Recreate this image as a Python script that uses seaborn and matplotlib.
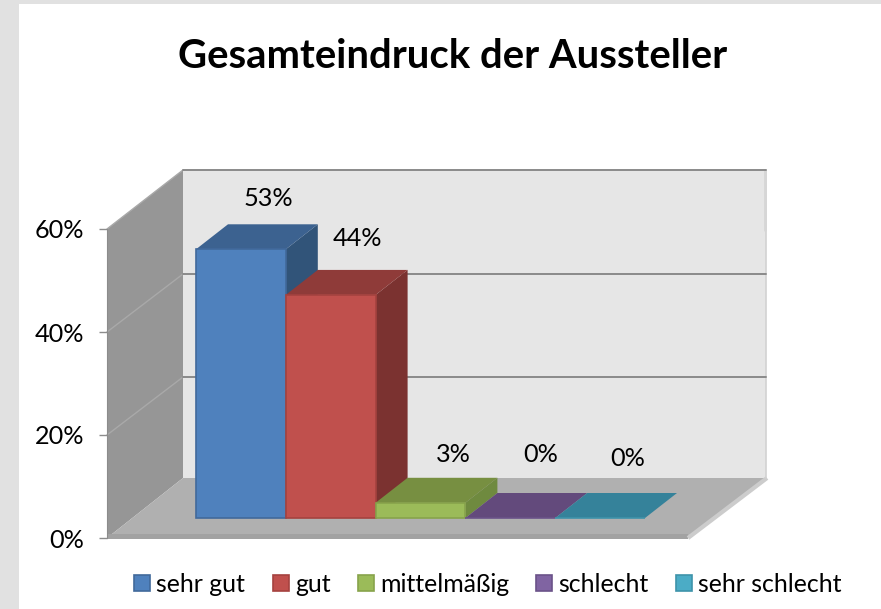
import matplotlib
matplotlib.use("Agg")
import matplotlib.pyplot as plt
import pandas as pd
import seaborn as sns
from matplotlib.patches import Polygon, Rectangle

categories = ["sehr gut", "gut", "mittelmäßig", "schlecht", "sehr schlecht"]
values = [53, 44, 3, 0, 0]
y_ticks = [0, 20, 40, 60]

front_colors = ["#4f81bd", "#c0504d", "#9bbb59", "#8064a2", "#4bacc6"]
top_colors = ["#3c6290", "#8f3b39", "#778f41", "#634a7c", "#35829a"]
side_colors = ["#315479", "#7b3230", "#6f8a3f", "#5a4372", "#2f7489"]
edge_colors = ["#41699b", "#a5423f", "#87a34b", "#6b5389", "#3e93aa"]

# label offsets from the bar's front top centre, in px (right, up)
label_offsets = [(27, 51), (27, 56), (33, 48), (30, 64), (28, 60)]

W, H = 881, 609
FONT = "Lato"

# layout in px
WALL_LEFT, WALL_RIGHT = 107, 688
AXIS_ZERO, AXIS_TOP = 538, 229
WALL_DX, WALL_DY = 76, 60
GRID_DY = 58
BAR_LEFT, BAR_RIGHT, BAR_BASE = 196, 645, 518
BAR_DX, BAR_DY = 32, 25
BAR_PX_PER_PCT = 5.07

sns.set_style("white")
plt.rcParams["font.family"] = [FONT, "DejaVu Sans"]

fig = plt.figure(figsize=(W / 100, H / 100), dpi=100, facecolor="white")


def box(left, top, right, bottom):
    return [left / W, 1 - bottom / H, (right - left) / W, (bottom - top) / H]


# grey page strips, walls and floor in a px axes
ax_bg = fig.add_axes([0, 0, 1, 1], zorder=0)
ax_bg.set_xlim(0, W)
ax_bg.set_ylim(H, 0)
ax_bg.axis("off")
ax_bg.add_patch(Rectangle((0, 0), W, 4, color="#e1e1e1", lw=0))
ax_bg.add_patch(Rectangle((0, 0), 19, H, color="#e1e1e1", lw=0))

back_left = WALL_LEFT + WALL_DX
back_right = WALL_RIGHT + WALL_DX + 2
back_top = AXIS_TOP - WALL_DY + 1
back_bottom = AXIS_ZERO - WALL_DY
ax_bg.add_patch(Polygon([(back_left, back_top), (back_right, back_top),
                         (back_right, back_bottom), (back_left, back_bottom)],
                        color="#e6e6e6", lw=0))
ax_bg.add_patch(Polygon([(WALL_LEFT, AXIS_TOP), (back_left, back_top),
                         (back_left, back_bottom), (WALL_LEFT, AXIS_ZERO)],
                        color="#969696", lw=0))
ax_bg.add_patch(Polygon([(WALL_LEFT, AXIS_ZERO), (back_left, back_bottom),
                         (back_right, back_bottom), (WALL_RIGHT, AXIS_ZERO)],
                        color="#b0b0b0", lw=0))
ax_bg.add_patch(Polygon([(WALL_LEFT, AXIS_ZERO - 4), (WALL_RIGHT, AXIS_ZERO - 4),
                         (WALL_RIGHT, AXIS_ZERO + 1), (WALL_LEFT, AXIS_ZERO + 1)],
                        color="#a2a2a2", lw=0))
ax_bg.plot([WALL_RIGHT, back_right + 1], [AXIS_ZERO, back_bottom],
           color="#cccccc", lw=3, solid_capstyle="butt")
ax_bg.plot([back_right, back_right], [back_top, back_bottom], color="#d2d2d2", lw=1.2)
ax_bg.plot([back_right - 1, back_right - 1], [back_top, back_top + 60], color="#d6d6d6", lw=2)

px_per_pct = (AXIS_ZERO - AXIS_TOP) / y_ticks[-1]
for v in y_ticks[1:]:
    y_px = AXIS_ZERO - v * px_per_pct
    dy_px = WALL_DY - 1 if v == y_ticks[-1] else GRID_DY
    ax_bg.plot([WALL_LEFT, back_left], [y_px, y_px - dy_px], color="#a9a9a9", lw=1)
    ax_bg.plot([back_left, back_right], [y_px - dy_px, y_px - dy_px],
               color="#8a8a8a", lw=1.4)

# value axis on the front left edge of the wall
ax_val = fig.add_axes(box(WALL_LEFT, AXIS_TOP, WALL_LEFT + 1, AXIS_ZERO), zorder=1)
ax_val.patch.set_alpha(0)
ax_val.set_ylim(y_ticks[0], y_ticks[-1])
ax_val.set_xticks([])
ax_val.set_yticks(y_ticks)
ax_val.set_yticklabels([f"{v}%" for v in y_ticks])
ax_val.tick_params(axis="y", left=True, length=5.5, width=1, color="#8c8c8c",
                   pad=11, labelsize=18.2, labelcolor="black")
sns.despine(ax=ax_val, top=True, right=True, bottom=True)
ax_val.spines["left"].set_color("#8c8c8c")

# bars: front faces from seaborn, depth faces from the same data coords
ax = fig.add_axes(box(BAR_LEFT, BAR_BASE - 60 * BAR_PX_PER_PCT, BAR_RIGHT, BAR_BASE), zorder=2)
ax.patch.set_alpha(0)
df = pd.DataFrame({"cat": categories, "val": values})
sns.barplot(data=df, x="cat", y="val", hue="cat", hue_order=categories,
            palette=front_colors, width=1, saturation=1, legend=False, ax=ax)
ax.set_xlim(-0.5, len(categories) - 0.5)
ax.set_ylim(0, 60)
ax.axis("off")

unit_x = (BAR_RIGHT - BAR_LEFT) / len(categories)
dx = BAR_DX / unit_x
dy = BAR_DY / BAR_PX_PER_PCT

for i, patch in enumerate(list(ax.patches)):
    x0, w = patch.get_x(), patch.get_width()
    h = patch.get_height()
    x1 = x0 + w
    patch.set_edgecolor(edge_colors[i])
    patch.set_linewidth(1.2)
    patch.set_zorder(3 + i * 3 + 2)
    patch.set_clip_on(False)
    ax.add_patch(Polygon([(x1, 0), (x1 + dx, dy), (x1 + dx, h + dy), (x1, h)],
                         facecolor=side_colors[i], edgecolor="none",
                         zorder=3 + i * 3, clip_on=False))
    ax.add_patch(Polygon([(x0, h), (x0 + dx, h + dy), (x1 + dx, h + dy), (x1, h)],
                         facecolor=top_colors[i], edgecolor="none",
                         zorder=3 + i * 3 + 1, clip_on=False))
    off = label_offsets[i]
    ax.annotate(f"{values[i]}%", (x0 + w / 2, h), xytext=(off[0] * 0.72, off[1] * 0.72),
                textcoords="offset points", ha="center", va="center",
                fontsize=18.2, color="black", annotation_clip=False, zorder=30)

leg_handles = [Rectangle((0, 0), 1, 1, facecolor=front_colors[i], edgecolor=edge_colors[i], lw=1.2)
               for i in range(len(categories))]
fig.legend(leg_handles, categories, ncols=5, loc="center",
           bbox_to_anchor=(488 / W, 1 - 584 / H), frameon=False, fontsize=17.9,
           handlelength=0.64, handleheight=0.64, handletextpad=0.25, columnspacing=1.1,
           borderpad=0, labelcolor="black")

fig.text(453 / W, 1 - 56 / H, "Gesamteindruck der Aussteller", ha="center", va="center",
         fontsize=28.8, fontweight="bold", color="black")

fig.savefig("out.png", dpi=100, facecolor="white")
plt.close()
